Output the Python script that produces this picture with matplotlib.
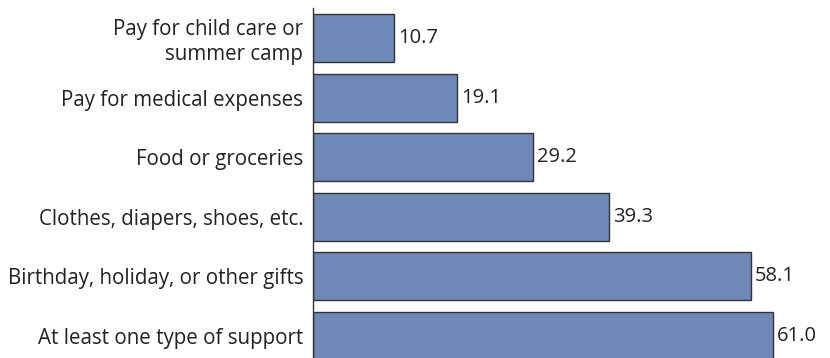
import matplotlib
matplotlib.use("Agg")
import matplotlib.pyplot as plt

categories = [
    "Pay for child care or\nsummer camp",
    "Pay for medical expenses",
    "Food or groceries",
    "Clothes, diapers, shoes, etc.",
    "Birthday, holiday, or other gifts",
    "At least one type of support",
]
values = [10.7, 19.1, 29.2, 39.3, 58.1, 61.0]

plt.rcParams["font.family"] = ["Open Sans", "DejaVu Sans"]

fig = plt.figure(figsize=(8.3, 3.58), dpi=100)
W, H = 830, 358
ax = fig.add_axes([313 / W, 0, (W - 313) / W, (H - 8) / H])

pos = list(range(len(categories)))
ax.barh(pos, values, height=0.805, color="#6f88b8", edgecolor="#333333", linewidth=1.0)

for p, v in zip(pos, values):
    ax.annotate(f"{v:.1f}", (v, p), xytext=(3, 0), textcoords="offset points",
                va="center", ha="left", fontsize=14.5, color="#222222")

ax.set_xlim(0, 68.57)
ax.set_ylim(5.37, -0.503)
ax.set_yticks(pos)
ax.set_yticklabels(categories, fontsize=14.8, color="#222222", linespacing=1.2)
for lbl in ax.get_yticklabels():
    lbl.set_horizontalalignment("right")
ax.tick_params(axis="y", length=0, pad=7)
ax.set_xticks([])
for s in ["top", "right", "bottom"]:
    ax.spines[s].set_visible(False)
ax.spines["left"].set_color("#333333")
ax.spines["left"].set_linewidth(1.0)

fig.savefig("out.png", dpi=100)
